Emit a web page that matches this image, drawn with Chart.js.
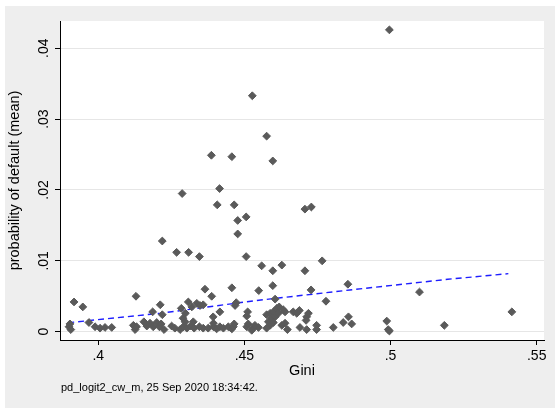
<!DOCTYPE html>
<html>
<head>
<meta charset="utf-8">
<script src="https://cdn.jsdelivr.net/npm/chart.js@4.4.1/dist/chart.umd.min.js"></script>
<style>
  html, body { margin: 0; padding: 0; background: #fff; }
  canvas { display: block; }
</style>
</head>
<body>
<canvas id="chart" width="555" height="408"></canvas>
<script>
// Gini vs mean probability of default
const giniVals = [
    .4996, .4527, .4576, .4387, .4457, .4597, .4415, .4287, .4407, .4465,
    .4707, .4729, .4506, .4477, .4477, .4219, .4268, .4309, .4346, .4506,
    .4766, .4559, .4597, .4628, .4707, .4365, .4388, .4457, .4549, .4597,
    .4728, .4854, .5099, .4129, .3917, .3947, .4605, .4779, .4212, .4308,
    .4337, .4472, .4468, .4186, .4416, .4511, .4508, .4219, .4284, .4290,
    .4298, .4320, .4348, .4359, .4325, .4393, .4576, .4588, .4599, .4611,
    .4619, .4593, .4605, .4616, .4582, .4588, .4599, .4628, .4576, .4633,
    .4639, .4667, .4679, .4688, .4713, .4711, .4719, .4856, .4867, .4838,
    .4804, .4747, .4747, .4690, .4713, .4639, .4647, .4508, .4530, .4548,
    .4536, .4359, .4376, .4394, .4405, .4416, .4428, .4445, .4457, .4462,
    .4465, .4513, .4525, .3900, .3906, .3903, .3968, .3989, .4006, .4023,
    .4046, .4120, .4126, .4131, .4156, .4166, .4177, .4188, .4200, .4209,
    .4225, .4251, .4262, .4280, .4291, .4303, .4316, .4328, .4346, .4297,
    .4394, .4987, .4992, .4996, .5184, .5415, .4215
];
const pdVals = [
    .0426, .0333, .0276, .0249, .0247, .0241, .0202, .0195, .0179, .0179,
    .0173, .0176, .0162, .0157, .0138, .0128, .0112, .0112, .0106, .0106,
    .0100, .0093, .0086, .0094, .0086, .0060, .0050, .0062, .0058, .0065,
    .0059, .0067, .0056, .0050, .0042, .0035, .0046, .0043, .0038, .0042,
    .0040, .0041, .0037, .0028, .0028, .0028, .0022, .0024, .0033, .0019,
    .0026, .0035, .0037, .0038, .0014, .0021, .0024, .0026, .0028, .0033,
    .0035, .0019, .0021, .0026, .0014, .0009, .0013, .0009, .0005, .0031,
    .0028, .0028, .0026, .0030, .0021, .0016, .0026, .0021, .0011, .0013,
    .0006, .0009, .0003, .0006, .0003, .0012, .0003, .0007, .0005, .0006,
    .0009, .0005, .0005, .0007, .0004, .0007, .0005, .0007, .0004, .0007,
    .0011, .0011, .0002, .0007, .0003, .0011, .0013, .0007, .0005, .0006,
    .0006, .0009, .0003, .0007, .0014, .0008, .0012, .0007, .0013, .0007,
    .0003, .0008, .0005, .0003, .0007, .0005, .0008, .0005, .0007, .0014,
    .0012, .0015, .0003, .0001, .0009, .0028, .0011
];

// dashed smoothed line
const fitGini = [.3897, .4212, .4536, .4861, .5196, .5403];
const fitPd = [.00127, .00260, .00438, .00589, .00740, .00819];

const xTicks = [.4, .45, .5, .55];
const yTicks = [0, .01, .02, .03, .04];

const FONT = "'Liberation Sans', Arial, sans-serif";

function stataLabel(v) {
    return v === 0 ? '0' : String(v).replace(/^0/, '');
}

// grey graph region, white plot region, footnote
const stataBackground = {
    id: 'stataBackground',
    beforeDraw(chart) {
        const { ctx, chartArea } = chart;
        ctx.save();
        ctx.fillStyle = '#ffffff';
        ctx.fillRect(0, 0, chart.width, chart.height);
        ctx.fillStyle = '#eeeeee';
        ctx.fillRect(5, 6, chart.width - 5, chart.height - 6);
        ctx.fillStyle = '#ffffff';
        ctx.fillRect(chartArea.left, chartArea.top,
            chartArea.right - chartArea.left, chartArea.bottom - chartArea.top);
        ctx.restore();
    },
    afterDraw(chart) {
        const { ctx } = chart;
        ctx.save();
        ctx.fillStyle = '#000';
        ctx.font = '11px ' + FONT;
        ctx.textBaseline = 'middle';
        ctx.fillText('pd_logit2_cw_m, 25 Sep 2020 18:34:42.', 61, 388);
        ctx.restore();
    }
};

const points = giniVals.map((g, i) => ({ x: g, y: pdVals[i] }));
const fitLine = fitGini.map((g, i) => ({ x: g, y: fitPd[i] }));

new Chart(document.getElementById('chart').getContext('2d'), {
    type: 'scatter',
    data: {
        datasets: [
            {
                label: 'probability of default (mean)',
                data: points,
                pointStyle: 'rectRot',
                pointRadius: 3.9,
                pointBorderWidth: 1,
                backgroundColor: '#5a5a5a',
                borderColor: '#5a5a5a'
            },
            {
                label: 'fit',
                type: 'line',
                data: fitLine,
                showLine: true,
                pointRadius: 0,
                borderColor: '#1e1eff',
                borderWidth: 1.4,
                borderDash: [6, 4],
                fill: false
            }
        ]
    },
    options: {
        responsive: false,
        animation: false,
        layout: { padding: { left: 0, top: 21, right: 11, bottom: 0 } },
        scales: {
            x: {
                type: 'linear',
                min: .3869,
                max: .5525,
                afterBuildTicks: scale => { scale.ticks = xTicks.map(v => ({ value: v })); },
                afterFit: scale => { scale.height = 68; },
                ticks: {
                    callback: v => stataLabel(v),
                    color: '#000',
                    font: { family: FONT, size: 14 },
                    padding: 3,
                    maxRotation: 0
                },
                grid: {
                    drawOnChartArea: false,
                    drawTicks: true,
                    tickLength: 5,
                    tickColor: '#000'
                },
                border: { display: true, color: '#000', width: 1 },
                title: {
                    display: true,
                    text: 'Gini',
                    color: '#000',
                    font: { family: FONT, size: 14.5 },
                    padding: { top: 0, bottom: 28 }
                }
            },
            y: {
                type: 'linear',
                min: -.00117,
                max: .04385,
                afterBuildTicks: scale => { scale.ticks = yTicks.map(v => ({ value: v })); },
                afterFit: scale => { scale.width = 60; },
                ticks: {
                    callback: v => stataLabel(v),
                    color: '#000',
                    font: { family: FONT, size: 14 },
                    padding: 1,
                    minRotation: 90,
                    maxRotation: 90,
                    crossAlign: 'center'
                },
                grid: {
                    color: '#e6e6e6',
                    drawTicks: true,
                    tickLength: 5,
                    tickColor: '#000'
                },
                border: { display: true, color: '#000', width: 1 },
                title: {
                    display: true,
                    text: 'probability of default (mean)',
                    color: '#000',
                    font: { family: FONT, size: 14.5 },
                    padding: { top: 6, bottom: 0 }
                }
            }
        },
        plugins: {
            legend: { display: false },
            tooltip: { enabled: false }
        }
    },
    plugins: [stataBackground]
});
</script>
</body>
</html>
